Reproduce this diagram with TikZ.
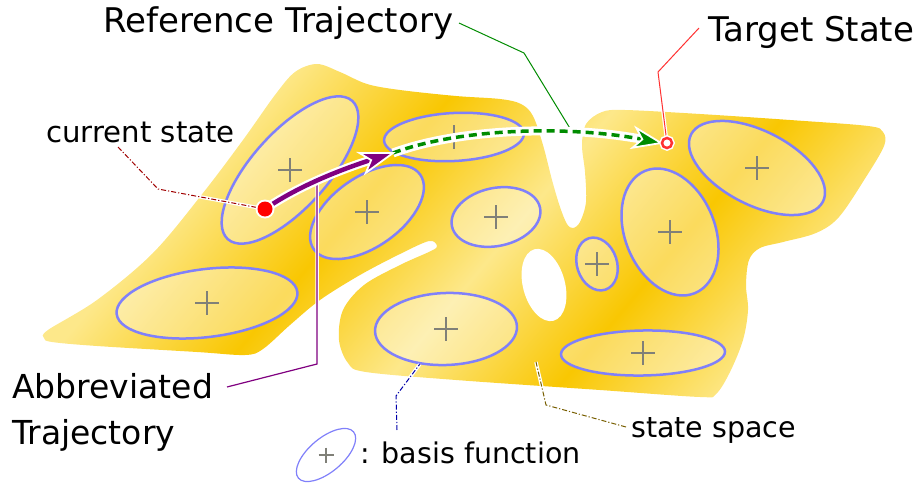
\documentclass[tikz,border=0pt]{standalone}
\usepackage{fontspec}
\setmainfont{DejaVu Sans}
\usetikzlibrary{shapes.geometric}
\definecolor{cheeseL}{RGB}{253,232,138}
\definecolor{cheeseD}{RGB}{249,199,2}
\definecolor{ellblue}{RGB}{128,128,250}
\definecolor{plusgrey}{RGB}{128,128,120}
\definecolor{purp}{RGB}{128,0,128}
\definecolor{grn}{RGB}{0,140,0}
\definecolor{dred}{RGB}{160,0,0}
\definecolor{tred}{RGB}{255,50,50}
\definecolor{bblue}{RGB}{0,0,170}
\definecolor{olivec}{RGB}{120,95,0}
\pgfdeclarehorizontalshading{cheese}{800bp}{color(0bp)=(cheeseL); color(87bp)=(cheeseL); color(227bp)=(cheeseD); color(360bp)=(cheeseL); color(495bp)=(cheeseD); color(630bp)=(cheeseL); color(700bp)=(cheeseL)}
\newcommand\plusmark[2]{\draw[plusgrey, line width=2pt] (#1.center) ++(-#2,0) -- ++(2*#2,0) (#1.center) ++(0,-#2) -- ++(0,2*#2);}
\begin{document}
\begin{tikzpicture}[x=1pt,y=-1pt,
  basis/.style={shape=ellipse, inner sep=0pt, draw=ellblue, line width=2.5pt, fill=white, fill opacity=0.36, draw opacity=1},
  bigl/.style={font=\fontsize{34}{46}\selectfont, inner sep=0pt},
  smalll/.style={font=\fontsize{28.5}{34}\selectfont, inner sep=0pt},
  leader/.style={line width=1pt, preaction={draw=white, line width=3.5pt, solid}},
  dashdotl/.style={dash pattern=on 5pt off 2pt on 1.2pt off 2pt},
  headst/.style={draw=white, line width=1.8pt, line join=miter}]
\useasboundingbox (0,0) rectangle (916,487);

% state space (cheese)
\begin{scope}
\clip plot[smooth cycle, tension=0.55] coordinates {
 (44,338) (48,330) (97,300) (153,253) (203,193) (243,140) (275,95) (295,72)
 (317,64) (340,72) (367,84) (400,90) (456,96) (500,99) (521,104) (533,116)
 (543,145) (552,180) (560,207) (567,224) (573,228) (580,222) (586,202)
 (585,172) (582,145) (586,124) (602,112) (625,110) (700,114) (790,120)
 (868,126) (883,132) (884,146) (866,177) (839,217) (816,233) (783,242)
 (760,248) (749,260) (746,285) (748,310) (743,340) (730,372) (716,394)
 (700,397) (600,390) (456,380) (366,372) (348,363) (339,340) (343,310)
 (364,285) (400,265) (431,251) (437,246) (429,241) (400,254) (360,275)
 (320,300) (290,325) (263,349) (245,355) (197,352) (97,346) (52,342)};
\node[inner sep=0pt, rotate=-40] (shade) at (483,250) {\pgfuseshading{cheese}};
\end{scope}
\fill[white, rotate around={15:(544,285)}] (544,285) ellipse [x radius=21, y radius=37];

% basis functions
\node[basis, minimum width=186pt, minimum height=76pt, rotate=48] (e1) at (290,170) {};
\node[basis, minimum width=140pt, minimum height=48pt, rotate=3] (e2) at (454,137) {};
\node[basis, minimum width=130pt, minimum height=70pt, rotate=35] (e3) at (367,212) {};
\node[basis, minimum width=90pt, minimum height=58pt, rotate=12] (e4) at (496,217) {};
\node[basis, minimum width=40pt, minimum height=54pt, rotate=18] (e5) at (597,264) {};
\node[basis, minimum width=90pt, minimum height=132pt, rotate=22] (e6) at (670,232) {};
\node[basis, minimum width=148pt, minimum height=74pt, rotate=-27] (e7) at (757,168) {};
\node[basis, minimum width=182pt, minimum height=68pt, rotate=7] (e8) at (207,303) {};
\node[basis, minimum width=142pt, minimum height=72pt, rotate=2] (e9) at (446,329) {};
\node[basis, minimum width=164pt, minimum height=45pt, rotate=1] (e10) at (643,353) {};
\foreach \e in {e1,e2,e3,e4,e5,e6,e7,e8,e9,e10} {\plusmark{\e}{12}}

% legend
\node[shape=ellipse, inner sep=0pt, draw=ellblue, line width=1.2pt, fill=white, minimum width=72pt, minimum height=34pt, rotate=40] (leg) at (326,455) {};
\draw[plusgrey, line width=1.2pt] (leg.center) ++(-7.5,0) -- ++(15,0) (leg.center) ++(0,-7.5) -- ++(0,15);

% labels
\node[bigl, anchor=base west] (reflab) at (103,33) {Reference Trajectory};
\node[bigl, anchor=base west] (tgtlab) at (708,42) {Target State};
\node[font=\fontsize{33}{46}\selectfont, inner sep=0pt, anchor=base west] (abbrlab1) at (12,398) {Abbreviated};
\node[font=\fontsize{33}{46}\selectfont, inner sep=0pt, anchor=base west] (abbrlab2) at (12,444) {Trajectory};
\node[font=\fontsize{29.2}{34}\selectfont, inner sep=0pt, anchor=base west] (curlab) at (46,142) {current state};
\node[smalll, anchor=base west] (sslab) at (631,437) {state space};
\node[smalll, anchor=base west] (bflab) at (360,463) {: basis function};

% states
\coordinate (abbrTip) at (393,153);
\coordinate (tgtTip) at (661,143);
\node[circle, inner sep=0pt, minimum size=11pt] (tgt) at (667,143) {};
\node[circle, inner sep=0pt, minimum size=17pt] (cur) at (265,209) {};

% leader lines
\coordinate (curA) at (118,147);
\coordinate (curB) at (158,189);
\draw[leader, dred, dashdotl] (curA) -- (curB) -- (cur);
\coordinate (refA) at (459,23);
\coordinate (refB) at (524,53);
\coordinate (refEnd) at (571,130);
\draw[leader, grn] (refA) -- (refB) -- (refEnd);
\coordinate (tgtA) at (699,28);
\coordinate (tgtB) at (658,72);
\draw[leader, tred] (tgtA) -- (tgtB) -- (tgt);
\coordinate (abA) at (227,387);
\coordinate (abB) at (317,364);
\coordinate (abEnd) at (317,184);
\draw[leader, purp, line width=1.2pt] (abA) -- (abB) -- (abEnd);
\coordinate (bfA) at (397,430);
\coordinate (bfB) at (396,396);
\draw[leader, bblue, dashdotl] (bfA) -- (bfB) -- (e9);
\coordinate (ssA) at (626,427);
\coordinate (ssB) at (546,405);
\coordinate (ssEnd) at (536,362);
\draw[leader, olivec, dashdotl] (ssA) -- (ssB) -- (ssEnd);

% reference trajectory (green, dashed)
\draw[white, line width=9pt, shorten >=16pt] (abbrTip) .. controls (460,128) and (570,125) .. (tgtTip);
\draw[grn, line width=3.5pt, dash pattern=on 8pt off 5pt, shorten >=16pt] (abbrTip) .. controls (460,128) and (570,125) .. (tgtTip);
\begin{scope}[shift={(tgtTip)}, rotate=-11]
\filldraw[headst, fill=grn] (0,0) -- (-27,-10) -- (-19,0) -- (-27,10) -- cycle;
\end{scope}
% abbreviated trajectory (purple)
\draw[white, line width=9pt, shorten >=20pt] (cur.center) .. controls (300,185) and (345,168) .. (abbrTip);
\draw[purp, line width=4.5pt, shorten >=20pt] (cur.center) .. controls (300,185) and (345,168) .. (abbrTip);
\begin{scope}[shift={(abbrTip)}, rotate=18]
\filldraw[headst, fill=purp] (0,0) -- (-32,-10.5) -- (-23,0) -- (-32,10.5) -- cycle;
\end{scope}

% state markers
\fill[white] (cur.center) circle [radius=9.5];
\fill[red] (cur.center) circle [radius=7.5];
\draw[white, line width=5.5pt] (tgt.center) circle [radius=5];
\draw[tred, line width=2.5pt, fill=white] (tgt.center) circle [radius=5];
\end{tikzpicture}
\end{document}
